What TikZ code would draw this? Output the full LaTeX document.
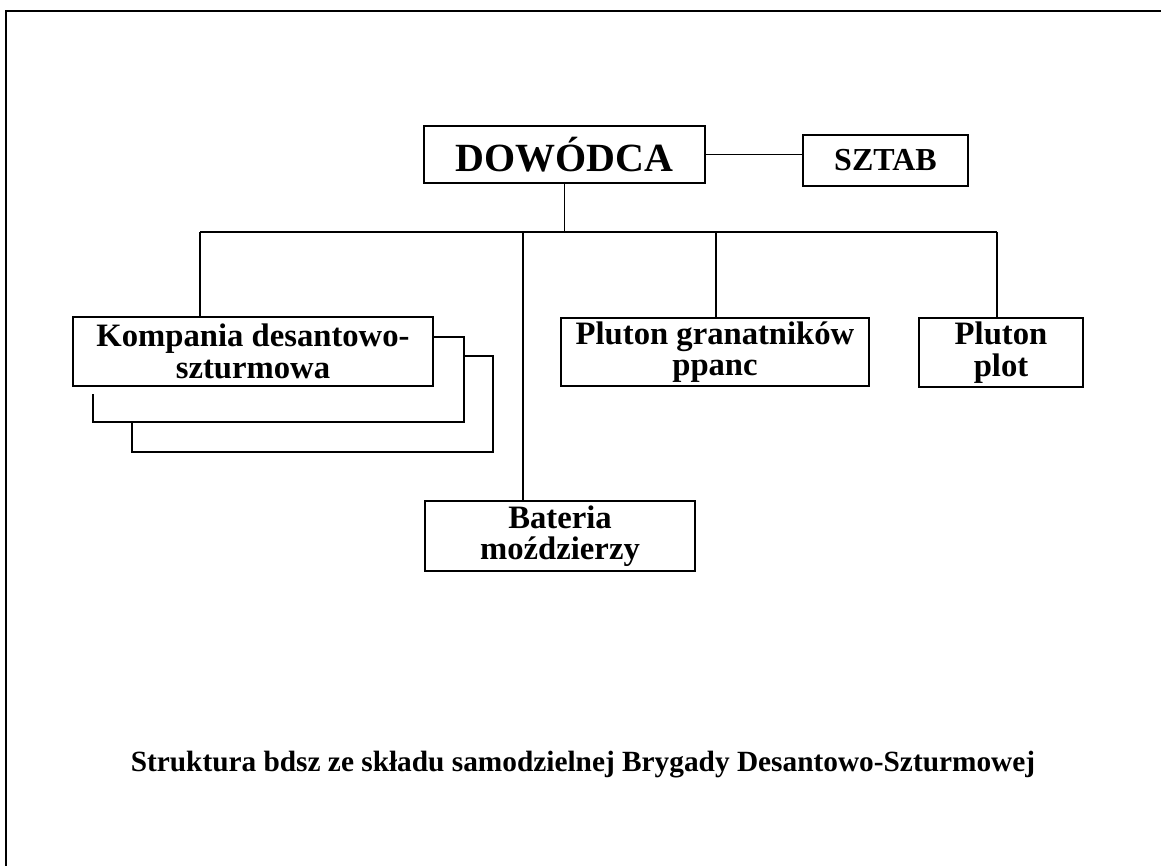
\documentclass[tikz,border=0pt]{standalone}
\usepackage{fontspec}
\setmainfont{Liberation Serif}
\usepackage{tikz}

\begin{document}
\begin{tikzpicture}[x=0.75pt,y=0.75pt,yscale=-1,xscale=1,
	unit/.style={draw,line width=0.9pt,inner sep=0pt,align=center,font=\bfseries\fontsize{24.5}{23.5}\selectfont},
	link/.style={line width=0.9pt}]
			\useasboundingbox (0,0) rectangle (1161,866);
			\draw[link]    (6,866) -- (6,11) -- (1161,11) ;
			
			\node[unit,minimum width=210.75pt,minimum height=42.75pt,font=\bfseries\fontsize{30}{32}\selectfont] (dowodca) at (564.5,154.5) {DOWÓDCA};
			\node[unit,minimum width=123.75pt,minimum height=38.25pt,font=\bfseries\fontsize{24}{26}\selectfont] (sztab) at (885.5,160.5) {SZTAB};
			\node[unit,minimum width=270pt,minimum height=51.75pt] (kompania) at (253,351.5) {Kompania desantowo-\\sztur\-mowa};
			\node[unit,minimum width=231pt,minimum height=51pt] (granat) at (715,352) {Pluton granatników\\ppanc};
			\node[unit,minimum width=123pt,minimum height=51.75pt] (plot) at (1001,352.5) {Pluton\\plot};
			\node[unit,minimum width=202.5pt,minimum height=52.5pt] (bateria) at (560,536) {Bateria\\moździerzy};
			
			\coordinate (kdrop) at (200,232);
			\coordinate (bdrop) at (523,232);
			\coordinate (gdrop) at (716,232);
			\coordinate (pdrop) at (997,232);
			
			\draw[link]    (dowodca.east) -- (dowodca.east -| sztab.west) ;
			\draw[link]    (dowodca.south) -- (dowodca.south |- kdrop) ;
			\draw[link]    (kdrop) -- (pdrop) ;
			\draw[link]    (kdrop) -- (kdrop |- kompania.north) ;
			\draw[link]    (bdrop) -- (bdrop |- bateria.north) ;
			\draw[link]    (gdrop) -- (gdrop |- granat.north) ;
			\draw[link]    (pdrop) -- (pdrop |- plot.north) ;
			
			% the two boxes behind the company
			\draw[link]    (433,337) -- (464,337) -- (464,422) -- (93,422) -- (93,394) ;
			\draw[link]    (464,356) -- (493,356) -- (493,452) -- (132,452) -- (132,422) ;
			
			\node[font=\bfseries\fontsize{22}{24}\selectfont] (caption) at (583,765) {Struktura bdsz ze składu samodzielnej Brygady Desantowo-Szturmowej};
\end{tikzpicture}
\end{document}
